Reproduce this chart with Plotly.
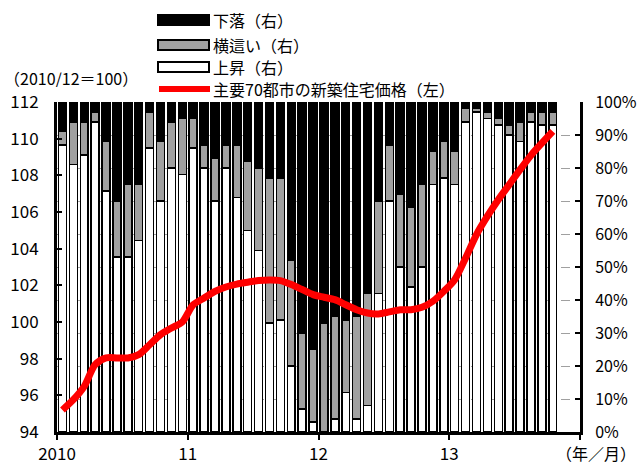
import plotly.graph_objects as go

# ---- data ----
months = [f"{y}/{m}" for y in range(2010, 2014) for m in range(1, 13)][:46]
year_ticks = ["2010", "11", "12", "13", ""]
pct_ticks = [f"{v}%" for v in range(0, 101, 10)]

up_pct = [87, 81, 84, 94, 73, 53, 53, 58, 86, 70, 80, 78,
          86, 80, 70, 80, 71, 61, 55, 33, 34, 20, 7, 3,
          0, 4, 12, 4, 8, 42, 70, 50, 44, 50, 75, 77,
          75, 94, 97, 95, 93, 90, 88, 94, 93, 93]
flat_pct = [4, 13, 10, 3, 15, 17, 22, 17, 11, 18, 14, 17,
            9, 7, 13, 7, 16, 21, 25, 44, 43, 32, 23, 22,
            33, 31, 22, 31, 34, 28, 17, 22, 24, 25, 10, 11,
            10, 4, 1, 2, 2, 3, 6, 3, 4, 4]
down_pct = [9, 6, 6, 3, 12, 30, 25, 25, 3, 12, 6, 5,
            5, 13, 17, 13, 13, 18, 20, 23, 23, 48, 70, 75,
            67, 65, 66, 65, 58, 30, 13, 28, 32, 25, 15, 12,
            15, 2, 2, 3, 5, 7, 6, 3, 3, 3]
price_index = [95.2, 95.76, 96.49, 97.67, 98.04, 98.04, 98.04, 98.22, 98.76, 99.31, 99.67, 100.0,
               100.94, 101.31, 101.67, 101.91, 102.07, 102.17, 102.26, 102.29, 102.26, 102.04, 101.77, 101.49,
               101.35, 101.22, 100.94, 100.67, 100.49, 100.44, 100.55, 100.67, 100.67, 100.8, 101.13, 101.67,
               102.31, 103.49, 104.77, 105.77, 106.67, 107.49, 108.31, 109.09, 109.76, 110.4]

x_pos = [i + 0.5 for i in range(len(months))]
FONT = "Noto Sans CJK JP"

fig = go.Figure()
fig.add_trace(go.Bar(x=x_pos, y=up_pct, name="上昇(右)", marker=dict(color="white", line=dict(color="black", width=1.5)),
                     yaxis="y", hovertext=months))
fig.add_trace(go.Bar(x=x_pos, y=flat_pct, name="横這い(右)", marker=dict(color="#a0a0a0", line=dict(color="black", width=1.5)),
                     yaxis="y", hovertext=months))
fig.add_trace(go.Bar(x=x_pos, y=down_pct, name="下落(右)", marker=dict(color="black", line=dict(color="black", width=1.5)),
                     yaxis="y", hovertext=months))
fig.add_trace(go.Scatter(x=x_pos, y=price_index, name="主要70都市の新築住宅価格(左)", mode="lines",
                         line=dict(color="#ff0000", width=7, shape="spline", smoothing=0.8), yaxis="y2"))

L, R, T, B = 57, 580, 102, 432
def px(x):
    return (x - L) / (R - L)
def py(y):
    return (B - y) / (B - T)

shapes = []
annotations = []
legend_items = [
    ("black", "下落（右）", 15, 25, 20),
    ("#a0a0a0", "横這い（右）", 40, 50, 45),
    ("white", "上昇（右）", 62, 72, 67),
]
for col, txt, y0, y1, yc in legend_items:
    shapes.append(dict(type="rect", xref="paper", yref="paper", x0=px(158), x1=px(209), y0=py(y1), y1=py(y0),
                       fillcolor=col, line=dict(color="black", width=2)))
    annotations.append(dict(text=txt, xref="paper", yref="paper", x=px(211), y=py(yc), xanchor="left", yanchor="middle",
                            showarrow=False, height=18, font=dict(size=16, color="black", family=FONT)))
shapes.append(dict(type="line", xref="paper", yref="paper", x0=px(159), x1=px(210), y0=py(89), y1=py(89),
                   line=dict(color="#ff0000", width=6)))
annotations.append(dict(text="主要70都市の新築住宅価格（左）", xref="paper", yref="paper", x=px(211), y=py(89),
                        xanchor="left", yanchor="middle", showarrow=False, height=18,
                        font=dict(size=16, color="black", family=FONT)))
annotations.append(dict(text="（2010/12＝100）", xref="paper", yref="paper", x=px(2), y=py(78),
                        xanchor="left", yanchor="middle", showarrow=False, height=18,
                        font=dict(size=16, color="black", family=FONT)))
annotations.append(dict(text="（年／月）", xref="paper", yref="paper", x=px(638), y=py(453),
                        xanchor="right", yanchor="middle", showarrow=False, font=dict(size=16, color="black", family=FONT)))

fig.update_layout(
    width=640, height=466,
    margin=dict(l=L, r=640 - R, t=T, b=466 - B, autoexpand=False),
    paper_bgcolor="white", plot_bgcolor="white",
    barmode="stack", bargap=0.27,
    showlegend=False,
    font=dict(family=FONT, size=17, color="black"),
    xaxis=dict(range=[0, 48], tickvals=[0, 12, 24, 36, 48], ticktext=year_ticks, automargin=False,
               showline=True, linecolor="black", linewidth=3, ticks="outside", ticklen=5, tickwidth=2,
               tickcolor="black", showgrid=False, zeroline=False, tickfont=dict(size=17)),
    yaxis=dict(range=[0, 100], side="right", tickvals=list(range(0, 101, 10)), ticktext=pct_ticks, automargin=False,
               showline=True, linecolor="black", linewidth=3, ticks="inside", ticklen=5, tickwidth=2,
               tickcolor="black", showgrid=True, gridcolor="#a0a0a0", griddash="dash", gridwidth=1,
               zeroline=False, tickfont=dict(size=16), ticklabelstandoff=9),
    yaxis2=dict(range=[94, 112], overlaying="y", side="left", tickvals=list(range(94, 113, 2)), automargin=False,
                showline=True, linecolor="black", linewidth=3, ticks="inside", ticklen=5, tickwidth=2,
                tickcolor="black", showgrid=False, zeroline=False, tickfont=dict(size=17), ticklabelstandoff=12),
    shapes=shapes, annotations=annotations,
)

fig.write_html("out.html", config={"displayModeBar": False},
               post_script="document.body.style.margin='0';document.body.style.overflow='hidden';")
